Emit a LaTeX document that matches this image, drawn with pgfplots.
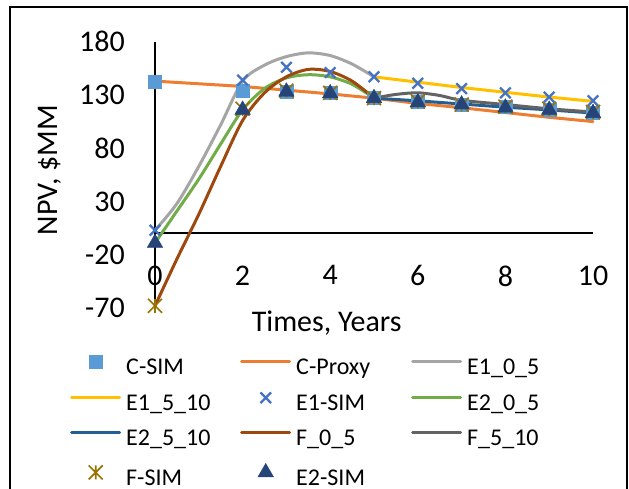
\documentclass[border=0pt]{standalone}
\usepackage{pgfplots}
\pgfplotsset{compat=1.18}
\usepackage{fontspec}
\setmainfont{Carlito}
\definecolor{cSIM}{HTML}{5B9BD5}
\definecolor{cProxy}{HTML}{ED7D31}
\definecolor{eOneA}{HTML}{A5A5A5}
\definecolor{eOneB}{HTML}{FFC000}
\definecolor{eOneSIM}{HTML}{4472C4}
\definecolor{eTwoA}{HTML}{70AD47}
\definecolor{eTwoB}{HTML}{255E91}
\definecolor{fA}{HTML}{9E480E}
\definecolor{fB}{HTML}{636363}
\definecolor{fSIM}{HTML}{997300}
\definecolor{eTwoSIM}{HTML}{264478}
\pgfdeclareplotmark{xstar}{%
  \pgfpathmoveto{\pgfqpoint{-\pgfplotmarksize}{-\pgfplotmarksize}}%
  \pgfpathlineto{\pgfqpoint{\pgfplotmarksize}{\pgfplotmarksize}}%
  \pgfpathmoveto{\pgfqpoint{-\pgfplotmarksize}{\pgfplotmarksize}}%
  \pgfpathlineto{\pgfqpoint{\pgfplotmarksize}{-\pgfplotmarksize}}%
  \pgfpathmoveto{\pgfqpoint{0pt}{-\pgfplotmarksize}}%
  \pgfpathlineto{\pgfqpoint{0pt}{\pgfplotmarksize}}%
  \pgfusepathqstroke}
\tikzset{ln/.style={line width=3pt, line cap=round, line join=round}}
\begin{document}
\begin{tikzpicture}
\path[use as bounding box] (0,0) rectangle (629pt,489pt);
\draw[line width=1.8pt] (10pt,-10pt) -- (10pt,482pt) -- (627pt,482pt) -- (627pt,-10pt);
\begin{axis}[
  at={(155pt,181pt)}, anchor=south west,
  scale only axis, width=438pt, height=266.3pt,
  xmin=0, xmax=10, ymin=-70, ymax=180,
  axis x line=middle, axis y line=left,
  axis line style={-, line width=2pt, black},
  every inner x axis line/.append style={-, line width=2pt},
  every outer y axis line/.append style={-, line width=2pt},
  xtick={0,2,...,10}, ytick={-70,-20,...,180},
  major tick length=0pt,
  hide obscured x ticks=false, hide obscured y ticks=false,
  /pgf/number format/assume math mode=true,
  ticklabel style={font=\fontsize{30}{30}\selectfont},
  xticklabel style={anchor=north, inner sep=0pt, yshift=-32pt},
  yticklabel style={anchor=east, inner sep=0pt, xshift=-30pt},
  clip=false,
  xlabel={Times, Years}, ylabel={NPV, \$MM},
  every axis x label/.style={at={(rel axis cs:0.392,-0.0901)}, anchor=base, font=\fontsize{30}{30}\selectfont},
  every axis y label/.style={at={(rel axis cs:-0.2397,0.518)}, rotate=90, anchor=center, font=\fontsize{30}{30}\selectfont},
  legend columns=3,
  legend cell align=left,
  legend style={draw=none, fill=none, at={(rel axis cs:-0.194,-0.1765)}, anchor=north west,
    inner sep=0pt, font=\fontsize{24}{24}\selectfont,
    nodes={inner sep=0pt, text height=17pt, text depth=6pt},
    row sep=11.8pt, column sep=5pt},
  legend image code/.code={\draw[mark repeat=2,mark phase=2,#1] plot coordinates {(0pt,7.5pt) (24pt,7.5pt) (48pt,7.5pt)};},
]
\addplot[only marks, mark=square*, mark size=6.5pt, color=cSIM] coordinates {
 (0,142) (2,134) (3,133) (4,132) (5,127) (6,124) (7,121) (8,119) (9,116) (10,113)};
\addlegendentry{\makebox[109pt][l]{C-SIM}}
\addplot[ln, no marks, color=cProxy] coordinates {
 (0,143) (1,140.5) (2,138) (3,134.5) (4,131) (5,127) (6,122) (7,118) (8,113.5) (9,109) (10,105)};
\addlegendentry{\makebox[110pt][l]{C-Proxy}}
\addplot[ln, no marks, smooth, color=eOneA] coordinates {
 (0,3) (0.5,28) (1,63) (1.5,102) (2,143) (2.5,158) (3,166) (3.5,169.5) (4,167) (4.5,159) (5,147)};
\addlegendentry{E1\_0\_5}
\addplot[ln, no marks, color=eOneB] coordinates {
 (5,147) (6,142) (7,137) (8,132.5) (9,128) (10,124)};
\addlegendentry{\makebox[109pt][l]{E1\_5\_10}}
\addplot[only marks, mark=x, mark size=7.5pt, color=eOneSIM, mark options={line width=2.3pt}] coordinates {
 (0,3) (2,144) (3,156) (4,151) (5,147) (6,141) (7,136) (8,132) (9,128) (10,124.5)};
\addlegendentry{\makebox[110pt][l]{E1-SIM}}
\addplot[ln, no marks, smooth, color=eTwoA] coordinates {
 (0,-9) (0.5,21) (1,51) (1.5,84) (2,116) (2.5,136) (3,146) (3.5,149) (4,147) (4.5,140) (5,127)};
\addlegendentry{E2\_0\_5}
\addplot[ln, no marks, color=eTwoB] coordinates {
 (5,127) (6,124.5) (7,121.5) (8,118.5) (9,116) (10,113)};
\addlegendentry{\makebox[109pt][l]{E2\_5\_10}}
\addplot[ln, no marks, smooth, color=fA] coordinates {
 (0,-68) (0.5,-24) (1,18) (1.5,63) (2,106) (2.5,132) (3,147) (3.5,154) (4,152) (4.5,143) (5,127)};
\addlegendentry{\makebox[110pt][l]{F\_0\_5}}
\addplot[ln, no marks, smooth, color=fB] coordinates {
 (5,127) (5.5,130.5) (6,132) (6.5,129.5) (7,125) (8,121) (9,117) (10,114)};
\addlegendentry{F\_5\_10}
\addplot[only marks, mark=xstar, mark size=7pt, color=fSIM, mark options={line width=1.6pt}] coordinates {
 (0,-68) (2,117) (3,134) (4,132) (5,127) (6,124) (7,121) (8,119) (9,117) (10,114)};
\addlegendentry{\makebox[109pt][l]{F-SIM}}
\addplot[only marks, mark=triangle*, mark size=9pt, color=eTwoSIM] coordinates {
 (0,-9) (2,116) (3,133) (4,131.5) (5,127) (6,123) (7,121) (8,118) (9,116) (10,113)};
\addlegendentry{\makebox[110pt][l]{E2-SIM}}
\end{axis}
\end{tikzpicture}
\end{document}
